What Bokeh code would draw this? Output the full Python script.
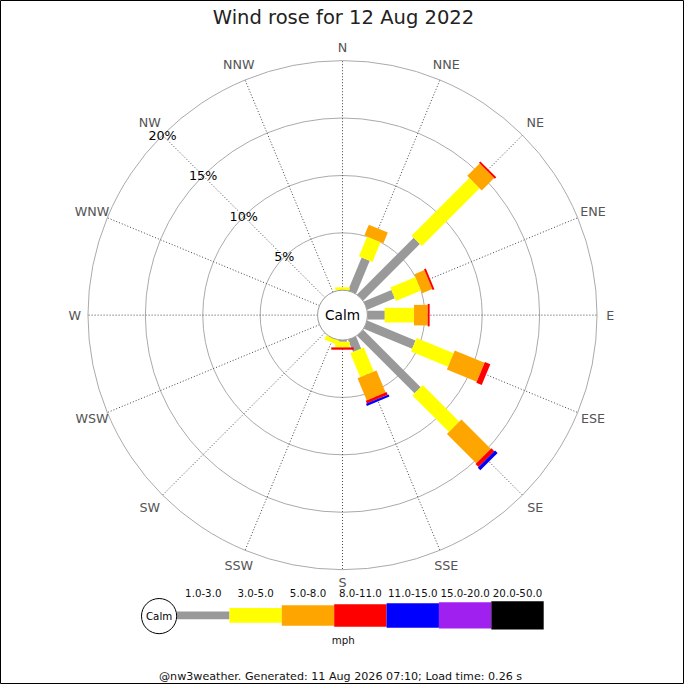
import math
from bokeh.plotting import figure
from bokeh.models import Range1d
from bokeh.embed import file_html
from bokeh.resources import INLINE
from bokeh.core.properties import value

# ---------------- data ----------------
directions = ["N", "NNE", "NE", "ENE", "E", "ESE", "SE", "SSE",
              "S", "SSW", "SW", "WSW", "W", "WNW", "NW", "NNW"]
speed_bins = ["1.0-3.0", "3.0-5.0", "5.0-8.0", "8.0-11.0",
              "11.0-15.0", "15.0-20.0", "20.0-50.0"]
# frequency (%) per direction for each speed bin
freq_1_3 = [0.0, 3.11, 6.98, 2.60, 1.51, 4.55, 7.08, 1.15, 0.15, 0.0, 0, 0, 0, 0, 0, 0]
freq_3_5 = [0.25, 1.87, 7.11, 2.38, 2.55, 3.49, 4.51, 2.26, 0.49, 0.38, 0, 0, 0, 0, 0, 0]
freq_5_8 = [0.0, 1.00, 1.53, 0.94, 1.19, 2.81, 3.60, 2.08, 0.0, 0.0, 0, 0, 0, 0, 0, 0]
freq_8_11 = [0.0, 0.0, 0.17, 0.17, 0.17, 0.51, 0.37, 0.26, 0.20, 0.0, 0, 0, 0, 0, 0, 0]
freq_11_15 = [0.0, 0.0, 0.0, 0.0, 0.0, 0.0, 0.31, 0.20, 0.0, 0.0, 0, 0, 0, 0, 0, 0]
freq_15_20 = [0.0] * 16
freq_20_50 = [0.0] * 16
ring_pcts = [5, 10, 15, 20]
ring_labels = ["5%", "10%", "15%", "20%"]
title_text = "Wind rose for 12 Aug 2022"
unit_text = "mph"
footer_text = "@nw3weather. Generated: 11 Aug 2026 07:10; Load time: 0.26 s"

series = [freq_1_3, freq_3_5, freq_5_8, freq_8_11, freq_11_15, freq_15_20, freq_20_50]
bin_colors = ["#999999", "#ffff00", "#ffa500", "#ff0000", "#0000ff", "#a020f0", "#000000"]
bar_px = [9, 15, 21, 23, 25, 27, 29]
legend_px = [8, 15, 21, 23, 25, 27, 29]

# ---------------- layout ----------------
SIZE = 684
K = SIZE / 700.0   # canvas px per reference px
S = 11.75          # reference px per percent
CX, CY = 350, 322  # centre (reference px)
calm_r = 25.5 / S

def X(px):
    return (px - CX) / S

def Y(py):
    return (CY - py) / S

def fs(px):
    return "%.2fpx" % (px * K)

p = figure(width=SIZE, height=SIZE,
           x_range=Range1d(X(0), X(700)), y_range=Range1d(Y(700), Y(0)),
           output_backend="svg", toolbar_location=None, min_border=0,
           x_axis_location=None, y_axis_location=None)
p.grid.visible = False
p.outline_line_color = "black"
p.outline_line_width = 1
p.background_fill_color = "white"
p.border_fill_color = "white"

FONT = value("DejaVu Sans")

# rings
p.circle(x=[0] * len(ring_pcts), y=[0] * len(ring_pcts),
         radius=[calm_r + r for r in ring_pcts],
         fill_color=None, line_color="#aaaaaa", line_width=1)

# radial lines
angs = [math.radians(90 - i * 22.5) for i in range(16)]
rmax = calm_r + ring_pcts[-1]
p.segment(x0=[calm_r * math.cos(a) for a in angs], y0=[calm_r * math.sin(a) for a in angs],
          x1=[rmax * math.cos(a) for a in angs], y1=[rmax * math.sin(a) for a in angs],
          line_color="#444444", line_width=1, line_dash="1 2")

# bars
for k, ser in enumerate(series):
    xs, ys, ws, an = [], [], [], []
    for i, a in enumerate(angs):
        v = ser[i]
        if v <= 0:
            continue
        start = sum(series[j][i] for j in range(k))
        rmid = calm_r + start + v / 2
        xs.append(rmid * math.cos(a))
        ys.append(rmid * math.sin(a))
        ws.append(v)
        an.append(a)
    if xs:
        p.rect(x=xs, y=ys, width=ws, height=bar_px[k] * K, height_units="screen",
               angle=an, fill_color=bin_colors[k], line_color=None)

# calm circle
p.circle(x=[0], y=[0], radius=[calm_r], fill_color="white", line_color="#999999", line_width=1)
p.text(x=[0], y=[0], text=["Calm"], text_align="center", text_baseline="middle",
       text_font=FONT, text_font_size=fs(14), text_color="#000000")

# direction labels
lab_r = [(274 + 5 * abs(math.sin(2 * a))) / S for a in angs]
p.text(x=[r * math.cos(a) for r, a in zip(lab_r, angs)],
       y=[r * math.sin(a) for r, a in zip(lab_r, angs)],
       text=directions, text_align="center", text_baseline="middle",
       text_font=FONT, text_font_size=fs(13), text_color="#555555")

# percent labels along NW
a_nw = math.radians(90 - 315)
p.text(x=[(calm_r + r) * math.cos(a_nw) for r in ring_pcts],
       y=[(calm_r + r) * math.sin(a_nw) for r in ring_pcts],
       text=ring_labels, text_align="center", text_baseline="middle",
       text_font=FONT, text_font_size=fs(13), text_color="#000000")

# title
p.text(x=[X(351)], y=[Y(17)], text=[title_text], text_align="center", text_baseline="middle",
       text_font=FONT, text_font_size=fs(20), text_color="#222222")

# legend
seg_x0, seg_w, leg_y = 180.7, 53.6, 629.3
centers = [seg_x0 + seg_w * (k + 0.5) for k in range(len(speed_bins))]
p.rect(x=[X(c) for c in centers], y=[Y(leg_y)] * len(centers),
       width=seg_w * K, width_units="screen", height=[h * K for h in legend_px],
       height_units="screen", fill_color=bin_colors, line_color=None)
p.scatter(x=[X(162.3)], y=[Y(630)], size=36 * K, marker="circle",
          fill_color="white", line_color="black", line_width=1)
p.text(x=[X(162.3)], y=[Y(630)], text=["Calm"], text_align="center", text_baseline="middle",
       text_font=FONT, text_font_size=fs(10.5), text_color="#000000")
p.text(x=[X(c) for c in centers], y=[Y(606.7)] * len(centers), text=speed_bins,
       text_align="center", text_baseline="middle",
       text_font=FONT, text_font_size=fs(10.5), text_color="#111111")
p.text(x=[X(350.7)], y=[Y(654)], text=[unit_text], text_align="center", text_baseline="middle",
       text_font=FONT, text_font_size=fs(10.5), text_color="#111111")

# footer
p.text(x=[X(348)], y=[Y(692)], text=[footer_text], text_align="center", text_baseline="middle",
       text_font=FONT, text_font_size=fs(11.4), text_color="#111111")

open("out.html", "w").write(file_html(p, INLINE))
